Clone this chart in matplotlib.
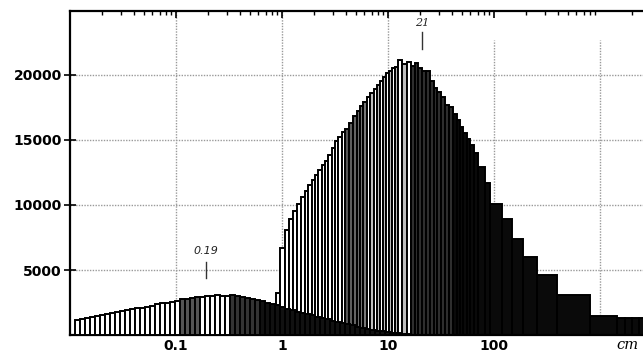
import numpy as np
import matplotlib
matplotlib.use("Agg")
import matplotlib.pyplot as plt

# ---- data: small mode (bin edges in cm, counts) ----
small_edges = [0.01115, 0.01243, 0.01385, 0.01544, 0.01721, 0.01919, 0.02139, 0.02384,
               0.02657, 0.02962, 0.03302, 0.03681, 0.04103, 0.04574, 0.05098, 0.05683,
               0.06335, 0.07062, 0.07871, 0.08775, 0.09785, 0.1091, 0.1216, 0.1355,
               0.1511, 0.1684, 0.1877, 0.2093, 0.2333, 0.2601, 0.2900, 0.3232, 0.3603,
               0.4016, 0.4477, 0.4991, 0.5563, 0.6201, 0.6913, 0.7706, 0.8590, 0.9575,
               1.067, 1.190, 1.326, 1.478, 1.648, 1.837, 2.048, 2.283, 2.545, 2.837,
               3.162, 3.525, 3.929, 4.380, 4.883, 5.443, 6.067, 6.763, 7.540, 8.404,
               9.369, 10.44, 11.64, 12.98, 14.47, 16.13, 17.97, 20.04]
small_counts = [1150, 1250, 1350, 1420, 1500, 1570, 1650, 1730, 1790, 1840, 1900, 1980,
                2050, 2100, 2150, 2250, 2380, 2450, 2500, 2550, 2650, 2750, 2800, 2880,
                2920, 2950, 2980, 3000, 3050, 3020, 3000, 3050, 3000, 2920, 2850, 2750,
                2680, 2600, 2500, 2400, 2280, 2150, 2000, 1900, 1800, 1720, 1620, 1520,
                1420, 1320, 1220, 1120, 1020, 920, 830, 740, 650, 570, 490, 420, 350,
                290, 230, 180, 140, 100, 70, 40, 20]

# ---- data: large mode (bin edges in cm, counts) ----
big_edges = [0.878, 0.957, 1.067, 1.164, 1.27, 1.385, 1.51, 1.648, 1.76, 1.919, 2.05,
             2.19, 2.38, 2.55, 2.72, 2.96, 3.16, 3.37, 3.68, 3.93, 4.29, 4.68, 5.10,
             5.44, 5.81, 6.34, 6.76, 7.38, 7.88, 8.41, 8.97, 9.57, 10.2, 10.9, 11.6,
             12.4, 13.6, 15.1, 16.5, 18.0, 19.2, 20.9, 22.8, 24.9, 27.2, 29.0, 31.6,
             34.5, 37.6, 41.0, 44.8, 47.8, 51.0, 55.6, 59.4, 64.8, 70.6, 82.2, 91.6,
             119, 148, 188, 255, 393, 805, 1445, 1720, 2000, 2330, 2700]
big_counts = [3200, 6700, 8100, 8900, 9500, 10100, 10600, 11100, 11500, 11900, 12300,
              12700, 13100, 13400, 13800, 14400, 14900, 15200, 15600, 15800, 16300,
              16800, 17200, 17600, 17900, 18300, 18600, 18900, 19200, 19500, 19800,
              20100, 20300, 20500, 20600, 21100, 20800, 21000, 20700, 20900, 20500,
              20300, 20300, 19500, 19000, 18700, 18300, 17700, 17500, 17000, 16500,
              16000, 15500, 15100, 14600, 14000, 12900, 11700, 10100, 8900, 7400, 6000,
              4600, 3100, 1500, 1300, 1300, 1300, 1300]

x_ticks = [0.1, 1, 10, 100]
x_ticklabels = ["0.1", "1", "10", "100"]
y_ticks = [5000, 10000, 15000, 20000]
y_ticklabels = ["5000", "10000", "15000", "20000"]
mode_small = 0.19
mode_big = 21

fig = plt.figure(figsize=(6.43, 3.52), dpi=100)
ax = fig.add_axes([0.1089, 0.048, 0.8911, 0.921])
ax.set_xscale("log")
ax.set_xlim(0.01, 2547)
ax.set_ylim(0, 24900)


def big_color(x, i):
    if x < 3.9:
        return "white"
    if x < 6.0:
        t = (np.log10(x) - np.log10(3.9)) / (np.log10(6.0) - np.log10(3.9))
        g = 0.33 + 0.15 * t
        return (g, g, g)
    if x < 16:
        return "#bdbdbd" if i % 2 == 0 else "white"
    if x < 38:
        return "#2e2e2e"
    return "#0a0a0a"


def small_color(x, i):
    if x < 0.1:
        return "white"
    if x < 0.16:
        return "#555555"
    if x < 0.3:
        return "white"
    if x < 0.6:
        return "#333333"
    return "#111111"


be = np.array(big_edges)
bl, bw = be[:-1], np.diff(be)
ax.bar(bl, big_counts, width=bw, align="edge",
       color=[big_color(x, i) for i, x in enumerate(bl)],
       edgecolor="black", linewidth=1.4, zorder=2)

se = np.array(small_edges)
sl, sw = se[:-1], np.diff(se)
ax.bar(sl, small_counts, width=sw, align="edge",
       color=[small_color(x, i) for i, x in enumerate(sl)],
       edgecolor="black", linewidth=1.4, zorder=3)

# grid
gkw = dict(color="#9a9a9a", linestyle=(0, (1, 1)), linewidth=1.0, zorder=1)
for yv in y_ticks:
    ax.axhline(yv, **gkw)
for xv in [0.1, 1, 10]:
    ax.axvline(xv, **gkw)
for xv in [100, 1000]:
    ax.axvline(xv, ymax=0.91, **gkw)

# mode annotations
ax.plot([mode_small, mode_small], [4400, 5600], color="#333333", lw=1.0, zorder=4)
ax.text(mode_small, 6100, "0.19", ha="center", va="bottom", fontsize=8,
        style="italic", color="#222222")
ax.plot([mode_big, mode_big], [22000, 23300], color="#333333", lw=1.0, zorder=4)
ax.text(mode_big, 23600, "21", ha="center", va="bottom", fontsize=8,
        family="DejaVu Serif", style="italic", color="#222222")

# axes styling
for s in ["left", "top", "bottom"]:
    ax.spines[s].set_linewidth(1.6)
ax.spines["right"].set_visible(False)

ax.set_xticks(x_ticks)
ax.set_xticklabels(x_ticklabels, fontsize=10, fontweight="bold")
ax.tick_params(axis="x", which="both", bottom=False, top=True, direction="in",
               labelbottom=True, pad=3)
ax.tick_params(axis="x", which="major", length=5, width=1.2)
ax.tick_params(axis="x", which="minor", length=3, width=1.0)
ax.set_yticks(y_ticks)
ax.set_yticklabels(y_ticklabels, fontsize=10, fontweight="bold")
ax.tick_params(axis="y", direction="inout", length=8, width=1.2, pad=2)

fig.text(627 / 643, 1 - 345 / 352, "cm", ha="center", va="center", fontsize=10.5,
         family="DejaVu Serif", style="italic")

fig.savefig("out.png", dpi=100)
